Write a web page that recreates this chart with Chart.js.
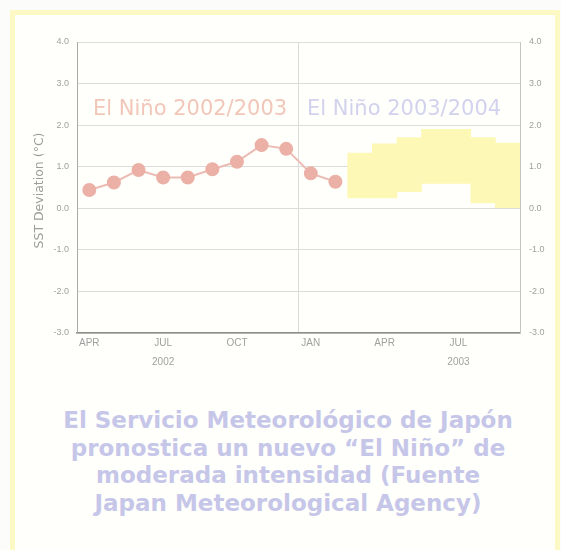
<!DOCTYPE html>
<html>
<head>
<meta charset="utf-8">
<script src="https://cdn.jsdelivr.net/npm/chart.js@4/dist/chart.umd.min.js"></script>
<style>
  html, body { margin: 0; padding: 0; }
  body { width: 561px; height: 550px; overflow: hidden; background: #fcfcfa; position: relative; }
  .frame { position: absolute; left: 10px; top: 10px; width: 540px; height: 560px; border: 5px solid #fcf9c4; background: #fffffc; }
  .wrap { position: absolute; left: 0; top: 0; width: 561px; height: 400px; }
  .caption { position: absolute; left: 0; top: 407px; width: 576px; text-align: center;
    font: bold 23px "DejaVu Sans", sans-serif; line-height: 27.5px; color: #c6c6e9; }
</style>
</head>
<body>
<div class="frame"></div>
<div class="wrap"><canvas id="chart"></canvas></div>
<div class="caption">El Servicio Meteorológico de Japón<br>pronostica un nuevo “El Niño” de<br>moderada intensidad (Fuente<br>Japan Meteorological Agency)</div>
<script>
// months from APR 2002 to SEP 2003
const months = ['APR', 'MAY', 'JUN', 'JUL', 'AUG', 'SEP', 'OCT', 'NOV', 'DEC', 'JAN', 'FEB', 'MAR', 'APR', 'MAY', 'JUN', 'JUL', 'AUG', 'SEP'];
const shownMonths = ['APR', 'JUL', 'OCT', 'JAN'];
const yearLabels = { 3: '2002', 15: '2003' };

// observed SST deviation (monthly)
const observed = [0.44, 0.62, 0.92, 0.74, 0.74, 0.94, 1.12, 1.52, 1.43, 0.84, 0.64, null, null, null, null, null, null, null];
// forecast range
const forecastLow = [null, null, null, null, null, null, null, null, null, null, null, 0.25, 0.25, 0.40, 0.60, 0.60, 0.13, 0.00];
const forecastHigh = [null, null, null, null, null, null, null, null, null, null, null, 1.33, 1.55, 1.70, 1.90, 1.90, 1.70, 1.57];

const yMin = -3, yMax = 4;
const jan2003 = 9;

const labels = months.map((m, i) => yearLabels[i] ? [m, yearLabels[i]] : m);
const forecast = forecastLow.map((lo, i) => lo == null ? null : [lo, forecastHigh[i]]);

const tickFont = { family: 'Liberation Sans, Arial, sans-serif', size: 9 };
const tickColor = '#a0a0a0';

const notes = {
  id: 'notes',
  afterDraw(chart) {
    const { ctx, chartArea } = chart;
    ctx.save();
    ctx.font = '21px "DejaVu Sans", sans-serif';
    ctx.textBaseline = 'alphabetic';
    ctx.textAlign = 'left';
    ctx.fillStyle = '#f2c6b8';
    ctx.fillText('El Niño 2002/2003', 93, 115);
    ctx.fillStyle = '#d2d2ee';
    ctx.fillText('El Niño 2003/2004', 307, 115);

    ctx.translate(40, (chartArea.top + chartArea.bottom) / 2 + 3);
    ctx.rotate(-Math.PI / 2);
    ctx.textAlign = 'center';
    ctx.textBaseline = 'middle';
    ctx.font = '12.5px "DejaVu Sans", sans-serif';
    ctx.fillStyle = '#9c9c9c';
    ctx.fillText('SST Deviation (°C)', 0, 0);
    ctx.restore();
  }
};

new Chart(document.getElementById('chart'), {
  type: 'line',
  data: {
    labels,
    datasets: [
      {
        type: 'line',
        label: 'Observed',
        data: observed,
        borderColor: '#ecbcb4',
        borderWidth: 2,
        pointRadius: 6,
        pointBackgroundColor: '#ebb0a6',
        pointBorderColor: '#ebb0a6',
        order: 1,
      },
      {
        type: 'bar',
        label: 'Forecast',
        data: forecast,
        backgroundColor: '#fdf8b6',
        borderWidth: 0,
        barPercentage: 1,
        categoryPercentage: 1,
        order: 2,
      },
    ],
  },
  options: {
    responsive: true,
    maintainAspectRatio: false,
    animation: false,
    layout: { padding: { top: 42, left: 0, right: 0, bottom: 0 } },
    plugins: { legend: { display: false }, tooltip: { enabled: false } },
    scales: {
      x: {
        offset: true,
        grid: {
          offset: true,
          drawTicks: false,
          color: c => c.index === jan2003 ? '#dadada' : 'rgba(0,0,0,0)',
        },
        border: { color: '#8c8c8c', width: 1.5 },
        ticks: {
          autoSkip: false,
          maxRotation: 0,
          padding: 1,
          color: tickColor,
          font: { ...tickFont, size: 10, lineHeight: 1.9 },
          callback(v, i) {
            if (!shownMonths.includes(months[i])) return '';
            return labels[i];
          },
        },
        afterFit(s) { s.height = 67; },
      },
      y: {
        position: 'left',
        min: yMin, max: yMax,
        grid: { color: '#dcdcdc', drawTicks: false },
        border: { color: '#aaaaaa' },
        ticks: { stepSize: 1, padding: 8, color: tickColor, font: tickFont, callback: v => v.toFixed(1) },
        afterFit(s) { s.width = 77; },
      },
      y2: {
        position: 'right',
        min: yMin, max: yMax,
        grid: { drawOnChartArea: false, drawTicks: false },
        border: { color: '#c4c4c4', dash: [2, 2] },
        ticks: { stepSize: 1, padding: 9, color: tickColor, font: tickFont, callback: v => v.toFixed(1) },
        afterFit(s) { s.width = 41; },
      },
    },
  },
  plugins: [notes],
});
</script>
</body>
</html>
